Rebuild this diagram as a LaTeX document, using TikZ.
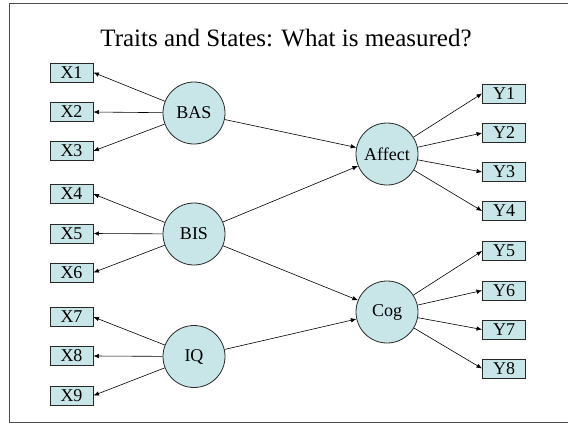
\documentclass[tikz,border=0pt]{standalone}
\usepackage{fontspec}
\setmainfont{Liberation Serif}
\usetikzlibrary{arrows.meta}
\definecolor{boxfill}{RGB}{200,230,232}
\definecolor{edgecol}{RGB}{40,40,40}
\begin{document}
\begin{tikzpicture}[x=1pt,y=-1pt,
  obs/.style={draw=edgecol, fill=boxfill, line width=0.9pt, minimum width=43pt, minimum height=19pt, inner sep=0pt, font=\fontsize{18}{18}\selectfont},
  lat/.style={circle, draw=edgecol, fill=boxfill, line width=0.8pt, minimum size=62pt, inner sep=0pt, font=\fontsize{18}{18}\selectfont},
  arr/.style={-{Latex[length=5.5pt,width=4.5pt]}, line width=0.6pt, draw=black}]
\useasboundingbox (0,0) rectangle (568,424);
\draw[line width=1pt, black!70] (575,3) -- (9,3) -- (9,422) -- (575,422);
\node (title) at (286,38) {\fontsize{25}{26}\selectfont Traits and States: What is measured?};
% latent
\node[lat] (BAS) at (194,113) {BAS};
\node[lat] (BIS) at (194,234) {BIS};
\node[lat] (IQ) at (194,356.5) {IQ};
\node[lat] (Affect) at (387,154) {Affect};
\node[lat] (Cog) at (387,312) {Cog};
% observed X
\node[obs] (X1) at (71.5,72.5) {X1};
\node[obs] (X2) at (71.5,112) {X2};
\node[obs] (X3) at (71.5,151) {X3};
\node[obs] (X4) at (71.5,194) {X4};
\node[obs] (X5) at (71.5,233.5) {X5};
\node[obs] (X6) at (71.5,272.5) {X6};
\node[obs] (X7) at (71.5,317) {X7};
\node[obs] (X8) at (71.5,356) {X8};
\node[obs] (X9) at (71.5,395.5) {X9};
% observed Y
\node[obs] (Y1) at (504,93.5) {Y1};
\node[obs] (Y2) at (504,133) {Y2};
\node[obs] (Y3) at (504,172) {Y3};
\node[obs] (Y4) at (504,211) {Y4};
\node[obs] (Y5) at (504,251) {Y5};
\node[obs] (Y6) at (504,290.5) {Y6};
\node[obs] (Y7) at (504,329.5) {Y7};
\node[obs] (Y8) at (504,368.5) {Y8};
% arrows
\foreach \s/\t in {BAS/X1,BAS/X2,BAS/X3,BIS/X4,BIS/X5,BIS/X6,IQ/X7,IQ/X8,IQ/X9}
  \draw[arr] (\s) -- (\t.east);
\foreach \s/\t in {Affect/Y1,Affect/Y2,Affect/Y3,Affect/Y4,Cog/Y5,Cog/Y6,Cog/Y7,Cog/Y8}
  \draw[arr] (\s) -- (\t.west);
\draw[arr] (BAS) -- (Affect);
\draw[arr] (BIS) -- (Affect);
\draw[arr] (BIS) -- (Cog);
\draw[arr] (IQ) -- (Cog);
\end{tikzpicture}
\end{document}
